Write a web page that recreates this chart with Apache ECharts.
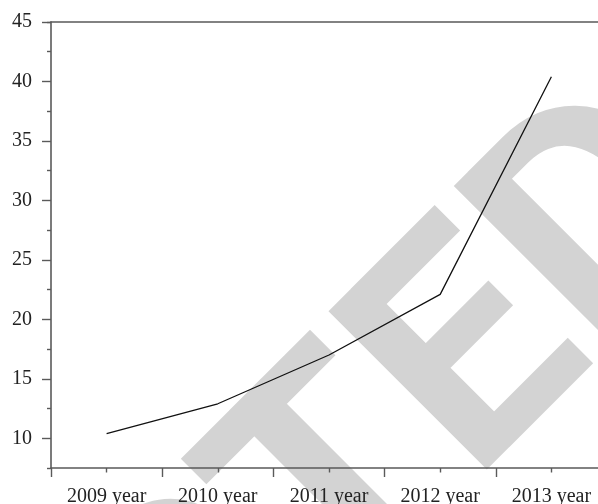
<!DOCTYPE html>
<html>
<head>
<meta charset="utf-8">
<style>
  html, body { margin: 0; padding: 0; background: #fff; }
  #chart { width: 598px; height: 504px; }
</style>
<script src="https://cdn.jsdelivr.net/npm/echarts@6/dist/echarts.min.js"></script>
</head>
<body>
<div id="chart"></div>
<script>
// Yearly values plotted as a single line
const years = ['2009 year', '2010 year', '2011 year', '2012 year', '2013 year'];
const values = [10.4, 12.9, 17.0, 22.1, 40.4];
const yMin = 7.5;
const yMax = 45;
const minorStep = 5; // half-way ticks sit at 7.5, 12.5, ... 42.5

const axisGray = '#5a5a5a';
const labelFont = { fontFamily: '"Liberation Serif", "DejaVu Serif", serif', fontSize: 20, color: '#222' };

const chart = echarts.init(document.getElementById('chart'), null, { renderer: 'canvas' });

chart.setOption({
  animation: false,
  backgroundColor: '#fff',
  graphic: [{
    type: 'text',
    x: 62.5,
    y: 782.5,
    rotation: Math.PI / 4,
    z: -100,
    silent: true,
    style: {
      text: 'RETRACTED',
      font: 'bold 315px Roboto',
      fill: '#d3d3d3',
      align: 'center',
      verticalAlign: 'middle'
    }
  }],
  grid: { left: 51, top: 22, right: -9, bottom: 36, containLabel: false, outerBoundsMode: 'none' },
  xAxis: [
    {
      type: 'category',
      data: years,
      position: 'bottom',
      boundaryGap: true,
      axisLine: { show: true, lineStyle: { color: axisGray, width: 1.6 } },
      axisTick: { show: true, length: 9, lineStyle: { color: axisGray, width: 1.4 } },
      axisLabel: Object.assign({ margin: 19 }, labelFont),
      splitLine: { show: false }
    },
    {
      type: 'category',
      data: years,
      position: 'bottom',
      boundaryGap: true,
      axisLine: { show: false },
      axisTick: { show: true, alignWithLabel: true, length: 4.5, lineStyle: { color: axisGray, width: 1.4 } },
      axisLabel: { show: false },
      splitLine: { show: false }
    },
    {
      type: 'category',
      data: years,
      position: 'top',
      axisLine: { show: true, lineStyle: { color: axisGray, width: 1.6 } },
      axisTick: { show: false },
      axisLabel: { show: false },
      splitLine: { show: false }
    }
  ],
  yAxis: [
    {
      type: 'value',
      min: yMin,
      max: yMax,
      splitNumber: 8,
      position: 'left',
      axisLine: { show: true, lineStyle: { color: axisGray, width: 1.6 } },
      axisTick: { show: true, length: 9, lineStyle: { color: axisGray, width: 1.4 } },
      axisLabel: Object.assign({ margin: 19, showMinLabel: false }, labelFont),
      splitLine: { show: false }
    },
    {
      // short ticks half-way between the labelled ones
      type: 'value',
      min: yMin,
      max: yMax,
      interval: minorStep,
      position: 'left',
      offset: 0,
      axisLine: { show: false },
      axisTick: { show: true, length: 4, lineStyle: { color: axisGray, width: 1.4 } },
      axisLabel: { show: false },
      splitLine: { show: false }
    }
  ],
  series: [{
    type: 'line',
    data: values,
    xAxisIndex: 0,
    yAxisIndex: 0,
    symbol: 'none',
    lineStyle: { color: '#111', width: 1.3 },
    z: 5
  }]
});
</script>
</body>
</html>
